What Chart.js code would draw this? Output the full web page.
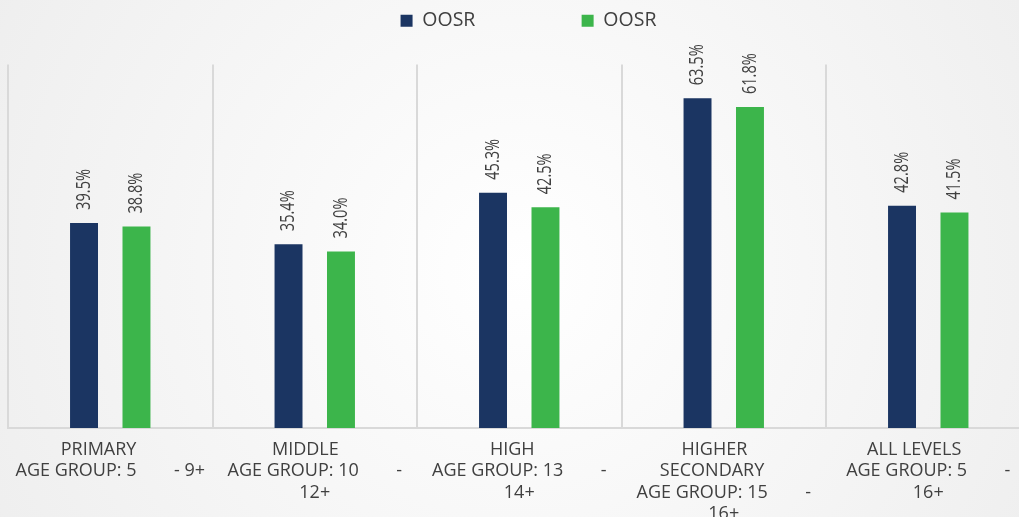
<!DOCTYPE html>
<html>
<head>
<meta charset="utf-8">
<script src="https://cdn.jsdelivr.net/npm/chart.js@4"></script>
<style>
  html, body { margin: 0; padding: 0; overflow: hidden; background: #f1f1f1; }
  canvas { display: block; }
</style>
</head>
<body>
<canvas id="oosr" width="1057" height="536"></canvas>
<script>
const NB = '\u00A0'
const gap = NB.repeat(8)

const levelLabels = [
  ['PRIMARY' + NB.repeat(5), 'AGE GROUP: 5' + gap + '- 9+'],
  ['MIDDLE' + NB.repeat(4), 'AGE GROUP: 10' + gap + '-', '12+'],
  ['HIGH' + NB.repeat(3), 'AGE GROUP: 13' + gap + '-', '14+'],
  ['HIGHER' + NB.repeat(4), 'SECONDARY' + NB.repeat(5), 'AGE GROUP: 15' + gap + '-', '16+'],
  ['ALL LEVELS' + NB.repeat(6), 'AGE GROUP: 5' + gap + '-', '16+']
]
const seriesNames = ['OOSR', 'OOSR']
const oosrNavy = [39.5, 35.4, 45.3, 63.5, 42.8]
const oosrGreen = [38.8, 34.0, 42.5, 61.8, 41.5]

const textColor = '#404040'
const gridColor = '#d9d9d9'

// soft radial backdrop behind everything
const backdrop = {
  id: 'backdrop',
  beforeDraw(chart) {
    const { ctx, width, height } = chart
    const g = ctx.createRadialGradient(520, 270, 0, 520, 270, 640)
    g.addColorStop(0, '#ffffff')
    g.addColorStop(1, '#ededed')
    ctx.save()
    ctx.fillStyle = g
    ctx.fillRect(0, 0, width, height)
    ctx.restore()
  }
}

// push the plot area down below the legend
const legendGap = {
  id: 'legendGap',
  beforeInit(chart) {
    const fit = chart.legend.fit
    chart.legend.fit = function () {
      fit.call(this)
      this.height += 24
    }
  }
}

// vertical value labels above each bar
const barValues = {
  id: 'barValues',
  afterDatasetsDraw(chart) {
    const { ctx } = chart
    ctx.save()
    ctx.fillStyle = textColor
    ctx.font = '20px "Open Sans"'
    ctx.textAlign = 'left'
    ctx.textBaseline = 'middle'
    chart.data.datasets.forEach((ds, i) => {
      chart.getDatasetMeta(i).data.forEach((bar, j) => {
        ctx.save()
        ctx.translate(bar.x, bar.y - 13)
        ctx.rotate(-Math.PI / 2)
        ctx.scale(0.73, 1)
        ctx.fillText(ds.data[j].toFixed(1) + '%', 0, 0)
        ctx.restore()
      })
    })
    ctx.restore()
  }
}

const hiddenAxis = (w) => ({
  display: true,
  min: 0,
  max: 70,
  grid: { display: false },
  border: { display: false },
  ticks: { display: false },
  afterFit: (scale) => { scale.width = w }
})

new Chart(document.getElementById('oosr'), {
  type: 'bar',
  data: {
    labels: levelLabels,
    datasets: [
      { label: seriesNames[0], data: oosrNavy, backgroundColor: '#1b3562', borderWidth: 0 },
      { label: seriesNames[1], data: oosrGreen, backgroundColor: '#3cb54b', borderWidth: 0 }
    ]
  },
  options: {
    responsive: false,
    animation: false,
    categoryPercentage: 0.513,
    barPercentage: 0.533,
    layout: { padding: { top: 1 } },
    plugins: {
      tooltip: { enabled: false },
      legend: {
        position: 'top',
        labels: {
          color: textColor,
          font: { family: 'Open Sans', size: 19.5 },
          boxWidth: 12,
          boxHeight: 12,
          padding: 10,
          generateLabels(chart) {
            const items = Chart.defaults.plugins.legend.labels.generateLabels(chart)
            items[0].text += NB.repeat(19)
            return items
          }
        }
      }
    },
    scales: {
      x: {
        grid: { color: gridColor, lineWidth: 2, drawTicks: false, offset: true },
        border: { color: gridColor, width: 2 },
        ticks: {
          color: textColor,
          font: { family: 'Open Sans', size: 18, lineHeight: '21.5px' },
          padding: 11,
          autoSkip: false,
          maxRotation: 0
        }
      },
      y: hiddenAxis(8),
      yRight: { ...hiddenAxis(26.5), position: 'right' }
    }
  },
  plugins: [backdrop, legendGap, barValues]
})
</script>
</body>
</html>
